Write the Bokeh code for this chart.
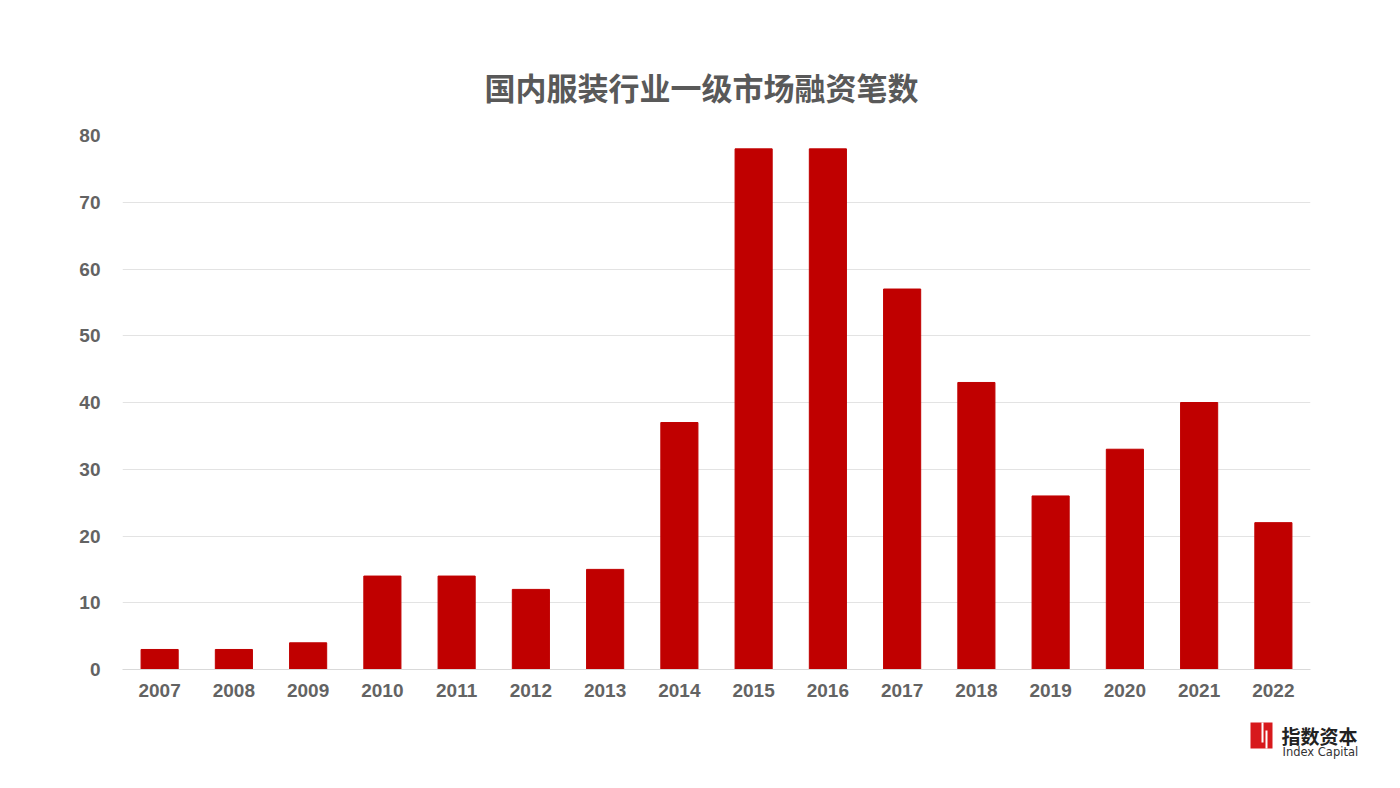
from bokeh.plotting import figure
from bokeh.layouts import column, row
from bokeh.models import ColumnDataSource, Range1d, FixedTicker, Spacer
from bokeh.core.properties import value
from bokeh.embed import file_html
from bokeh.resources import INLINE

years = ["2007", "2008", "2009", "2010", "2011", "2012", "2013", "2014",
         "2015", "2016", "2017", "2018", "2019", "2020", "2021", "2022"]
counts = [3, 3, 4, 14, 14, 12, 15, 37, 78, 78, 57, 43, 26, 33, 40, 22]
y_ticks = [0, 10, 20, 30, 40, 50, 60, 70, 80]
title_text = "国内服装行业一级市场融资笔数"
logo_cn = "指数资本"
logo_en = "Index Capital"

GREY = "#595959"
LABEL_GREY = "#636363"
W = 1384
H1 = 712                   # main chart height
FL, FT, FB, FR = 122, 135, 669, 1310

p = figure(x_range=years, y_range=Range1d(0, 80), width=W, height=H1,
           output_backend="svg", toolbar_location=None,
           min_border_left=FL, min_border_right=W - FR,
           min_border_top=FT, min_border_bottom=H1 - FB)
p.background_fill_color = "white"
p.border_fill_color = "white"
p.outline_line_color = None

src = ColumnDataSource(dict(x=years, y=counts))
p.vbar(x="x", top="y", width=0.5, source=src, fill_color="#C00000",
       line_color="#C00000")

p.title.text = title_text
p.title.align = "left"
p.title.offset = 362
p.title.text_font = "Noto Sans CJK SC"
p.title.text_font_size = "31px"
p.title.text_font_style = "bold"
p.title.text_color = GREY
p.title.standoff = 53

p.yaxis.ticker = FixedTicker(ticks=y_ticks)
p.yaxis.axis_line_color = None
p.yaxis.major_tick_line_color = None
p.yaxis.minor_tick_line_color = None
p.yaxis.major_label_standoff = 16
p.yaxis.major_label_text_font = "Liberation Sans"
p.yaxis.major_label_text_font_size = "19px"
p.yaxis.major_label_text_font_style = "bold"
p.yaxis.major_label_text_color = LABEL_GREY

p.xaxis.axis_line_color = "#d9d9d9"
p.xaxis.major_tick_line_color = None
p.xaxis.minor_tick_line_color = None
p.xaxis.major_label_standoff = 8
p.xaxis.major_label_text_font = "Liberation Sans"
p.xaxis.major_label_text_font_size = "19px"
p.xaxis.major_label_text_font_style = "bold"
p.xaxis.major_label_text_color = LABEL_GREY

p.xgrid.grid_line_color = None
p.ygrid.grid_line_color = "#e3e3e3"
p.ygrid.grid_line_width = 1

# logo in a small figure under the chart's bottom-right corner
LW, LH = 144, 60
lg = figure(width=LW, height=LH, x_range=Range1d(0, LW), y_range=Range1d(LH, 0),
            x_axis_type=None, y_axis_type=None, output_backend="svg",
            toolbar_location=None, min_border=0)
lg.outline_line_color = None
lg.grid.grid_line_color = None
lg.background_fill_color = "white"
lg.border_fill_color = "white"

lg.quad(left=[10], right=[32], top=[10], bottom=[36], fill_color="#D7191C",
        line_color=None)
lg.quad(left=[21, 25], right=[23, 27], top=[10, 18], bottom=[30, 36],
        fill_color="white", line_color=None)
lg.text(x=[41], y=[9], text=[logo_cn], text_baseline="top",
        text_font=value("Noto Sans CJK SC"), text_font_size="19px",
        text_font_style="bold", text_color="#222222")
lg.text(x=[42], y=[32], text=[logo_en], text_baseline="top",
        text_font=value("DejaVu Sans"), text_font_size="11.5px",
        text_color="#333333")

layout = column(p, row(Spacer(width=W - LW, height=LH), lg))

open("out.html", "w").write(file_html(layout, INLINE))
